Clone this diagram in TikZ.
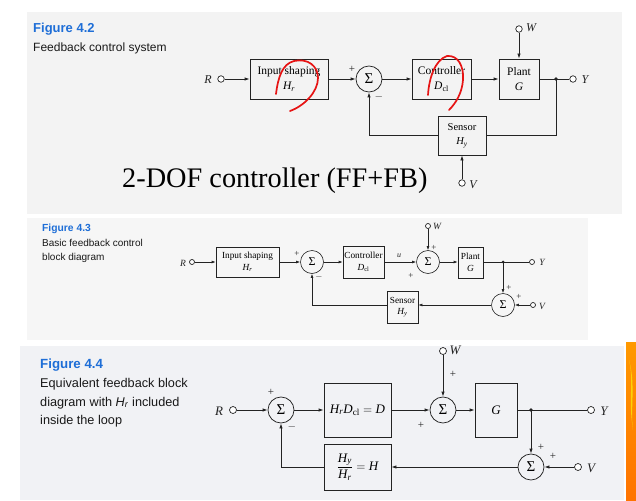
\documentclass[tikz,border=0pt]{standalone}
\usepackage{amsmath}
\usepackage{fontspec}
\setmainfont{Liberation Serif}
\setsansfont{Liberation Sans}
\usetikzlibrary{arrows.meta}
\definecolor{figblue}{RGB}{30,110,215}
\definecolor{panelA}{RGB}{243,243,243}
\definecolor{panelB}{RGB}{246,246,246}
\definecolor{panelC}{RGB}{241,242,245}
\definecolor{ink}{RGB}{35,35,35}
\definecolor{redpen}{RGB}{230,20,20}
\newcommand{\fs}[1]{\fontsize{#1}{1.25\dimexpr#1pt\relax}\selectfont}
\begin{document}
\begin{tikzpicture}[x=1pt,y=-1pt]
\tikzset{
  ln/.style={draw=ink, line width=0.75pt},
  arr/.style={ln, -{Latex[length=5pt,width=3.4pt]}},
  arrs/.style={draw=ink, line width=0.6pt, -{Latex[length=4pt,width=2.8pt]}},
  blk/.style={draw=ink, line width=0.75pt, inner sep=0pt, align=center},
  blks/.style={draw=ink, line width=0.6pt, inner sep=0pt, align=center},
  sumnode/.style={circle, draw=ink, line width=0.75pt, inner sep=0pt},
  term/.style={circle, draw=ink, line width=0.7pt, inner sep=0pt, fill=white},
  dotj/.style={circle, fill=ink, inner sep=0pt, minimum size=3.6pt},
  txt/.style={inner sep=0pt, text=ink},
  figlbl/.style={anchor=base west, inner sep=0pt, text=figblue, font=\sffamily\bfseries},
  caption/.style={anchor=base west, inner sep=0pt, text=black!90, font=\sffamily},
  redmark/.style={draw=redpen, line width=1.7pt, line cap=round, line join=round},
}
\useasboundingbox (0,0) rectangle (636,500);
\fill[white] (0,0) rectangle (636,500);

% ================= Panel 1 : Figure 4.2 =================
\fill[panelA] (27,12) rectangle (622,214);
\node[figlbl, font=\sffamily\bfseries\fs{13}] (f42) at (33,33) {Figure 4.2};
\node[caption, font=\sffamily\fs{12}] (c42) at (33,51.5) {Feedback control system};

\node[term, minimum size=6.5pt] (R1) at (221,79) {};
\node[txt, font=\fs{12}\itshape] (R1l) at (208,80) {R};
\node[blk, minimum width=78pt, minimum height=40pt, font=\fs{11.5}] (hr1) at (289,79)
  {Input shaping\\[1pt]$\textit{H}_{\textit{r}}$};
\node[sumnode, minimum size=26pt, font=\fs{15}] (s1) at (369,79) {Σ};
\node[blk, minimum width=59pt, minimum height=40pt, font=\fs{11.5}] (c1) at (441.5,79)
  {Controller\\[1pt]$\textit{D}_{\text{cl}}$};
\node[blk, minimum width=40pt, minimum height=40pt, font=\fs{11.5}] (p1) at (519,79)
  {Plant\\[1pt]\textit{G}};
\node[term, minimum size=6.5pt] (W1) at (519,29) {};
\node[txt, font=\fs{12}\itshape] (W1l) at (531,28) {W};
\coordinate (j1) at (556,79);
\node[dotj] (j1d) at (j1) {};
\node[term, minimum size=6.5pt] (Y1) at (573,79) {};
\node[txt, font=\fs{12}\itshape] (Y1l) at (585,80) {Y};
\node[blk, minimum width=48pt, minimum height=39pt, font=\fs{10.5}] (sn1) at (462,135.5)
  {Sensor\\[1pt]$\textit{H}_{\textit{y}}$};
\node[term, minimum size=6.5pt] (V1) at (462,183) {};
\node[txt, font=\fs{12}\itshape] (V1l) at (473,185) {V};
\node[txt, font=\fs{11}] (p1a) at (352,69) {+};
\node[txt, font=\fs{11}] (m1a) at (379,97) {$-$};

\draw[arr] (R1) -- (hr1);
\draw[arr] (hr1) -- (s1);
\draw[arr] (s1) -- (c1);
\draw[arr] (c1) -- (p1);
\draw[arr] (W1) -- (p1);
\draw[ln] (p1) -- (Y1);
\draw[ln] (j1) |- (sn1.east);
\draw[arr] (sn1.west) -| (s1.south);
\draw[arr] (V1) -- (sn1.south);

\node[txt, anchor=base west, font=\fs{28.3}, text=black] (dof) at (122,187) {2-DOF controller (FF+FB)};

% red hand marks
\draw[redmark] (276,94) .. controls (278,78) and (282,64) .. (294,61)
  .. controls (308,58) and (318,66) .. (318,78)
  .. controls (318,92) and (304,106) .. (290,111);
\draw[redmark] (428,95) .. controls (429,78) and (435,60) .. (447,56)
  .. controls (458,55) and (464,66) .. (463,80)
  .. controls (462,93) and (456,103) .. (449,110);

% ================= Panel 2 : Figure 4.3 =================
\fill[panelB] (27,218) rectangle (588,340);
\node[figlbl, font=\sffamily\bfseries\fs{10.3}] (f43) at (42,231) {Figure 4.3};
\node[caption, font=\sffamily\fs{10}] (c43a) at (42,246) {Basic feedback control};
\node[caption, font=\sffamily\fs{10}] (c43b) at (42,260) {block diagram};

\node[term, minimum size=5pt] (R2) at (192,262) {};
\node[txt, font=\fs{9.5}\itshape] (R2l) at (183,263) {R};
\node[blks, minimum width=63pt, minimum height=30pt, font=\fs{9.3}] (hr2) at (247.5,262)
  {Input shaping\\[0pt]$\textit{H}_{\textit{r}}$};
\node[sumnode, line width=0.6pt, minimum size=23pt, font=\fs{12}] (s2a) at (312,262) {Σ};
\node[blks, minimum width=41pt, minimum height=32pt, font=\fs{9.3}] (c2) at (363.5,262)
  {Controller\\[0pt]$\textit{D}_{\text{cl}}$};
\node[sumnode, line width=0.6pt, minimum size=23pt, font=\fs{12}] (s2b) at (428,262) {Σ};
\node[term, minimum size=5pt] (W2) at (428,226) {};
\node[txt, font=\fs{9.5}\itshape] (W2l) at (437,226) {W};
\node[blks, minimum width=25pt, minimum height=31pt, font=\fs{9.3}] (p2) at (470.5,262.5)
  {Plant\\[0pt]\textit{G}};
\coordinate (j2) at (503,262);
\node[dotj, minimum size=3pt] (j2d) at (j2) {};
\node[term, minimum size=5pt] (Y2) at (532,262) {};
\node[txt, font=\fs{9.5}\itshape] (Y2l) at (542,262) {Y};
\node[sumnode, line width=0.6pt, minimum size=23pt, font=\fs{12}] (s2c) at (503,305) {Σ};
\node[term, minimum size=5pt] (V2) at (533,305) {};
\node[txt, font=\fs{9.5}\itshape] (V2l) at (542,306) {V};
\node[blks, minimum width=31pt, minimum height=32pt, font=\fs{9.3}] (sn2) at (402.5,307)
  {Sensor\\[0pt]$\textit{H}_{\textit{y}}$};
\node[txt, font=\fs{8}\itshape] (u2) at (399,256) {u};
\node[txt, font=\fs{9}] (p2a) at (297,254) {+};
\node[txt, font=\fs{9}] (m2a) at (319,277) {$-$};
\node[txt, font=\fs{9}] (p2b) at (434,248) {+};
\node[txt, font=\fs{9}] (p2c) at (411,276) {+};
\node[txt, font=\fs{9}] (p2d) at (509,288) {+};
\node[txt, font=\fs{9}] (p2e) at (519,297) {+};

\draw[arrs] (R2) -- (hr2);
\draw[arrs] (hr2) -- (s2a);
\draw[arrs] (s2a) -- (c2);
\draw[arrs] (c2) -- (s2b);
\draw[arrs] (W2) -- (s2b);
\draw[arrs] (s2b) -- (p2.west |- s2b);
\draw[draw=ink, line width=0.6pt] (p2.east |- j2) -- (Y2);
\draw[arrs] (j2) -- (s2c);
\draw[arrs] (V2) -- (s2c);
\draw[arrs] (s2c) -- (sn2.east |- s2c);
\draw[arrs] (sn2.west |- s2c) -| (s2a.south);

% ================= Panel 3 : Figure 4.4 =================
\fill[panelC] (20,346) rectangle (624,500);
\node[figlbl, font=\sffamily\bfseries\fs{13.3}] (f44) at (40,368) {Figure 4.4};
\node[caption, font=\sffamily\fs{12.7}] (c44a) at (40,387) {Equivalent feedback block};
\node[caption, font=\sffamily\fs{12.7}] (c44b) at (40,406) {diagram with \textit{H}\textsubscript{\textit{r}} included};
\node[caption, font=\sffamily\fs{12.7}] (c44c) at (40,424.5) {inside the loop};

\node[term, minimum size=7pt] (R3) at (233,410) {};
\node[txt, font=\fs{13}\itshape] (R3l) at (219,411) {R};
\node[sumnode, minimum size=26pt, font=\fs{15}] (s3a) at (281,410) {Σ};
\node[blk, minimum width=67pt, minimum height=54pt, font=\fs{13}] (d3) at (357.5,410)
  {$\textit{H}_{\textit{r}}\textit{D}_{\text{cl}} = \textit{D}$};
\node[sumnode, minimum size=26pt, font=\fs{15}] (s3b) at (443,410) {Σ};
\node[term, minimum size=7pt] (W3) at (443,351) {};
\node[txt, font=\fs{13}\itshape] (W3l) at (455,350) {W};
\node[blk, minimum width=42pt, minimum height=54pt, font=\fs{13}] (g3) at (496,410) {\textit{G}};
\coordinate (j3) at (531,410);
\node[dotj] (j3d) at (j3) {};
\node[term, minimum size=7pt] (Y3) at (591,410) {};
\node[txt, font=\fs{13}\itshape] (Y3l) at (604,411) {Y};
\node[sumnode, minimum size=26pt, font=\fs{15}] (s3c) at (531,467) {Σ};
\node[term, minimum size=7pt] (V3) at (578,467) {};
\node[txt, font=\fs{13}\itshape] (V3l) at (591,468) {V};
\node[blk, minimum width=67pt, minimum height=46pt, font=\fs{13}] (h3) at (357.5,467)
  {$\dfrac{\textit{H}_{\textit{y}}}{\textit{H}_{\textit{r}}} = \textit{H}$};
\node[txt, font=\fs{11}] (p3a) at (271,392) {+};
\node[txt, font=\fs{11}] (m3a) at (292,427) {$-$};
\node[txt, font=\fs{11}] (p3b) at (453,374) {+};
\node[txt, font=\fs{11}] (p3c) at (421,425) {+};
\node[txt, font=\fs{11}] (p3d) at (541,447) {+};
\node[txt, font=\fs{11}] (p3e) at (553,456) {+};

\draw[arr] (R3) -- (s3a);
\draw[arr] (s3a) -- (d3);
\draw[arr] (d3) -- (s3b);
\draw[arr] (W3) -- (s3b);
\draw[arr] (s3b) -- (g3);
\draw[ln] (g3) -- (Y3);
\draw[arr] (j3) -- (s3c);
\draw[arr] (V3) -- (s3c);
\draw[arr] (s3c) -- (h3);
\draw[arr] (h3.west) -| (s3a.south);

% orange decoration at right edge
\shade[top color=orange!80!yellow, bottom color=orange!90!red] (626,342) rectangle (636,500);
\fill[yellow!70!orange] (629,360) .. controls (634,380) and (628,400) .. (633,430)
  .. controls (630,410) and (636,385) .. (629,360) -- cycle;
\end{tikzpicture}
\end{document}
